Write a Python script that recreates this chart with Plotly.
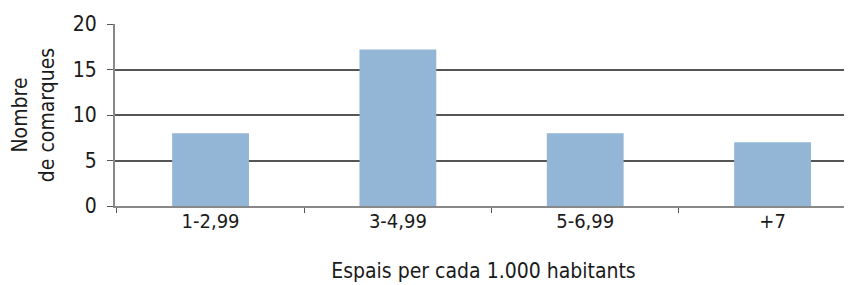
import plotly.graph_objects as go

categories = ["1-2,99", "3-4,99", "5-6,99", "+7"]
values = [8, 17.2, 8, 7]
y_ticks = [0, 5, 10, 15, 20]

FONT = "DejaVu Sans Condensed, Liberation Sans Narrow, sans-serif"

fig = go.Figure(go.Bar(x=categories, y=values, marker=dict(color="#93B6D6", line=dict(width=0))))

fig.update_layout(
    width=852, height=285,
    margin=dict(l=107, r=8, t=16, b=87),
    paper_bgcolor="white", plot_bgcolor="white",
    bargap=0.59,
    showlegend=False,
    font=dict(family=FONT, color="#1a1a1a", size=20),
)
fig.update_xaxes(
    range=[-0.51, 3.424], automargin=False,
    showline=True, linecolor="#888888", linewidth=2,
    ticks="outside", tickson="boundaries", ticklen=5, tickcolor="#555555",
    tickfont=dict(size=20), ticklabelstandoff=-4,
    title=dict(text="Espais per cada 1.000 habitants", font=dict(size=21), standoff=31),
    showgrid=False,
)
fig.update_yaxes(
    range=[0, 20], tickvals=y_ticks, automargin=False,
    showline=True, linecolor="#888888", linewidth=2,
    ticks="outside", ticklen=6, tickcolor="#555555",
    showgrid=True, gridcolor="#555555", gridwidth=1.5,
    tickfont=dict(size=21), ticklabelstandoff=6,
    title=dict(text="Nombre<br>de comarques", font=dict(size=21), standoff=12),
    zeroline=False,
)

fig.write_html("out.html")
